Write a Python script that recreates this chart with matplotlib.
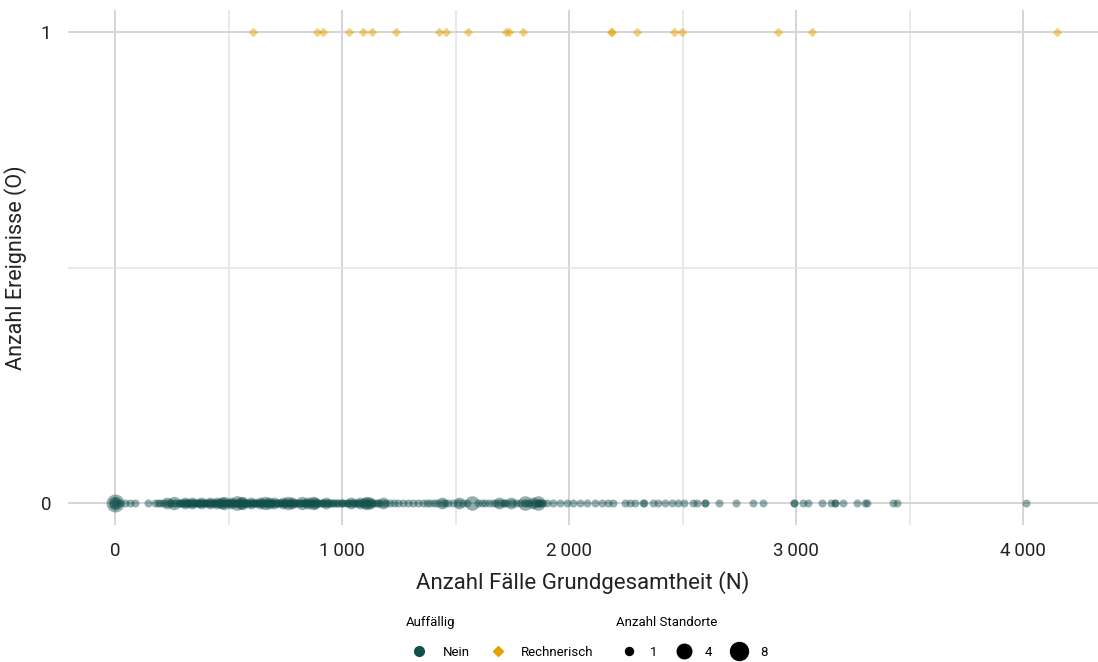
import matplotlib
matplotlib.use("Agg")
import matplotlib.pyplot as plt
from matplotlib.lines import Line2D
import numpy as np

plt.rcParams['font.family'] = ['Roboto', 'DejaVu Sans']

# N values of sites without finding ("Nein"), grouped by number of sites (Standorte)
nein_n_1 = [0, 22, 44, 66, 88, 145, 176, 190, 200, 212, 225, 236, 248, 258, 270, 281, 290,
            300, 308, 315, 322, 330, 338, 345, 352, 360, 368, 375, 383, 390, 398, 405, 413,
            420, 428, 436, 443, 450, 458, 466, 474, 482, 490, 497, 505, 512, 520, 528, 536,
            543, 550, 558, 566, 574, 582, 590, 598, 606, 614, 622, 630, 638, 646, 655, 663,
            671, 680, 688, 696, 705, 713, 722, 730, 739, 747, 756, 765, 774, 782, 791, 800,
            810, 819, 828, 838, 847, 856, 866, 876, 886, 896, 906, 916, 927, 938, 949, 960,
            971, 982, 994, 1006, 1018, 1030, 1042, 1055, 1068, 1081, 1094, 1108, 1122, 1136,
            1150, 1165, 1180, 1195, 1211, 1228, 1247, 1269, 1290, 1313, 1335, 1357, 1375,
            1388, 1403, 1419, 1441, 1454, 1467, 1490, 1511, 1533, 1550, 1599, 1615, 1630,
            1648, 1665, 1680, 1696, 1712, 1727, 1749, 1765, 1784, 1800, 1820, 1841, 1855,
            1872, 1885, 1903, 1930, 1960, 1991, 2018, 2048, 2079, 2115, 2145, 2172, 2194,
            2247, 2269, 2291, 2330, 2370, 2392, 2423, 2454, 2480, 2507, 2546, 2564, 2599,
            2661, 2736, 2811, 2855, 2991, 3031, 3053, 3115, 3154, 3172, 3207, 3269, 3304,
            3313, 3427, 3445, 4013,
            285, 302, 318, 334, 349, 364, 379, 394, 409, 424, 439, 454, 469, 486, 501, 517,
            532, 547, 562, 578, 594, 610, 626, 642, 659, 676, 692, 709, 726, 743, 760, 778,
            795, 813, 832, 851, 870, 890, 910, 932, 955, 978, 1000, 1025, 1050, 1076, 1102,
            1130, 1160, 1812, 1868, 1875, 2325, 2597, 2993, 3170, 1865, 1715]
nein_n_2 = [0, 230, 310, 340, 380, 420, 450, 470, 510, 560, 600, 640, 680, 700, 740, 780,
            850, 880, 930, 1040, 1079, 1100, 1123, 1180, 1440, 1515, 1690, 1745, 1840]
nein_n_3 = [0, 260, 480, 560, 660, 760, 824, 872, 1110]
nein_n_4 = [537, 1573, 1806, 1863]
nein_n_8 = [0]

# N values with one event ("Rechnerisch")
rech_n = [608, 889, 915, 1032, 1091, 1133, 1239, 1426, 1457, 1556, 1722, 1734, 1797,
          2184, 2189, 2301, 2461, 2498, 2919, 3069, 4151]

x_ticks = [0, 1000, 2000, 3000, 4000]
x_tick_labels = ["0", "1\u2009000", "2\u2009000", "3\u2009000", "4\u2009000"]

teal = "#124f4b"
orange = "#e69f00"


def marker_area(k):
    # diameter in px from 8 (1 site) to 18 (8 sites), area-like scaling
    d_px = 8 + 10 * np.sqrt((k - 1) / 7)
    return (d_px * 72 / 100) ** 2


fig = plt.figure(figsize=(10.98, 6.62), dpi=100)
ax = fig.add_axes([68 / 1098, 1 - 525 / 662, 1030 / 1098, 515 / 662])

for k, vals in [(8, nein_n_8), (4, nein_n_4), (3, nein_n_3), (2, nein_n_2), (1, nein_n_1)]:
    ax.scatter(vals, np.zeros(len(vals)), s=marker_area(k), color=teal, alpha=0.45,
               linewidths=0, zorder=3)

ax.scatter(rech_n, np.ones(len(rech_n)), s=24, marker="D", color=orange, alpha=0.5,
           linewidths=0, zorder=3)

ax.set_xlim(-207, 4330)
ax.set_ylim(-0.047, 1.047)
ax.set_xticks(x_ticks)
ax.set_xticklabels(x_tick_labels)
ax.set_xticks([500, 1500, 2500, 3500], minor=True)
ax.set_yticks([0, 1])
ax.set_yticks([0.5], minor=True)
ax.grid(which="major", color="#d2d2d2", linewidth=1.3, zorder=0)
ax.grid(which="minor", color="#e3e3e3", linewidth=1.1, zorder=0)
ax.set_axisbelow(True)
for sp in ax.spines.values():
    sp.set_visible(False)
ax.tick_params(which="both", length=0, labelsize=13.5, labelcolor="#222222")
ax.tick_params(axis="x", pad=12)
ax.tick_params(axis="y", pad=12)

ax.set_xlabel("Anzahl Fälle Grundgesamtheit (N)", fontsize=16, color="#222222", labelpad=8)
ax.set_ylabel("Anzahl Ereignisse (O)", fontsize=15.5, color="#222222", labelpad=10)

# legends
h1 = [Line2D([], [], marker="o", linestyle="", color=teal, markersize=7),
      Line2D([], [], marker="D", linestyle="", color=orange, markersize=5)]
leg1 = fig.legend(h1, ["Nein", "Rechnerisch"], title="Auffällig", ncol=2,
                  loc="upper left", bbox_to_anchor=(394 / 1098, 1 - 604 / 662),
                  frameon=False, alignment="left", fontsize=9.5, title_fontsize=9.5,
                  handletextpad=0.8, columnspacing=1.1, labelspacing=1.3)

h2 = [Line2D([], [], marker="o", linestyle="", color="black",
             markersize=np.sqrt(marker_area(k))) for k in [1, 4, 8]]
leg2 = fig.legend(h2, ["1", "4", "8"], title="Anzahl Standorte", ncol=3,
                  loc="upper left", bbox_to_anchor=(604 / 1098, 1 - 604 / 662),
                  frameon=False, alignment="left", fontsize=9.5, title_fontsize=9.5,
                  handletextpad=0.6, columnspacing=1.0, labelspacing=1.3)

fig.savefig("out.png", dpi=100)
